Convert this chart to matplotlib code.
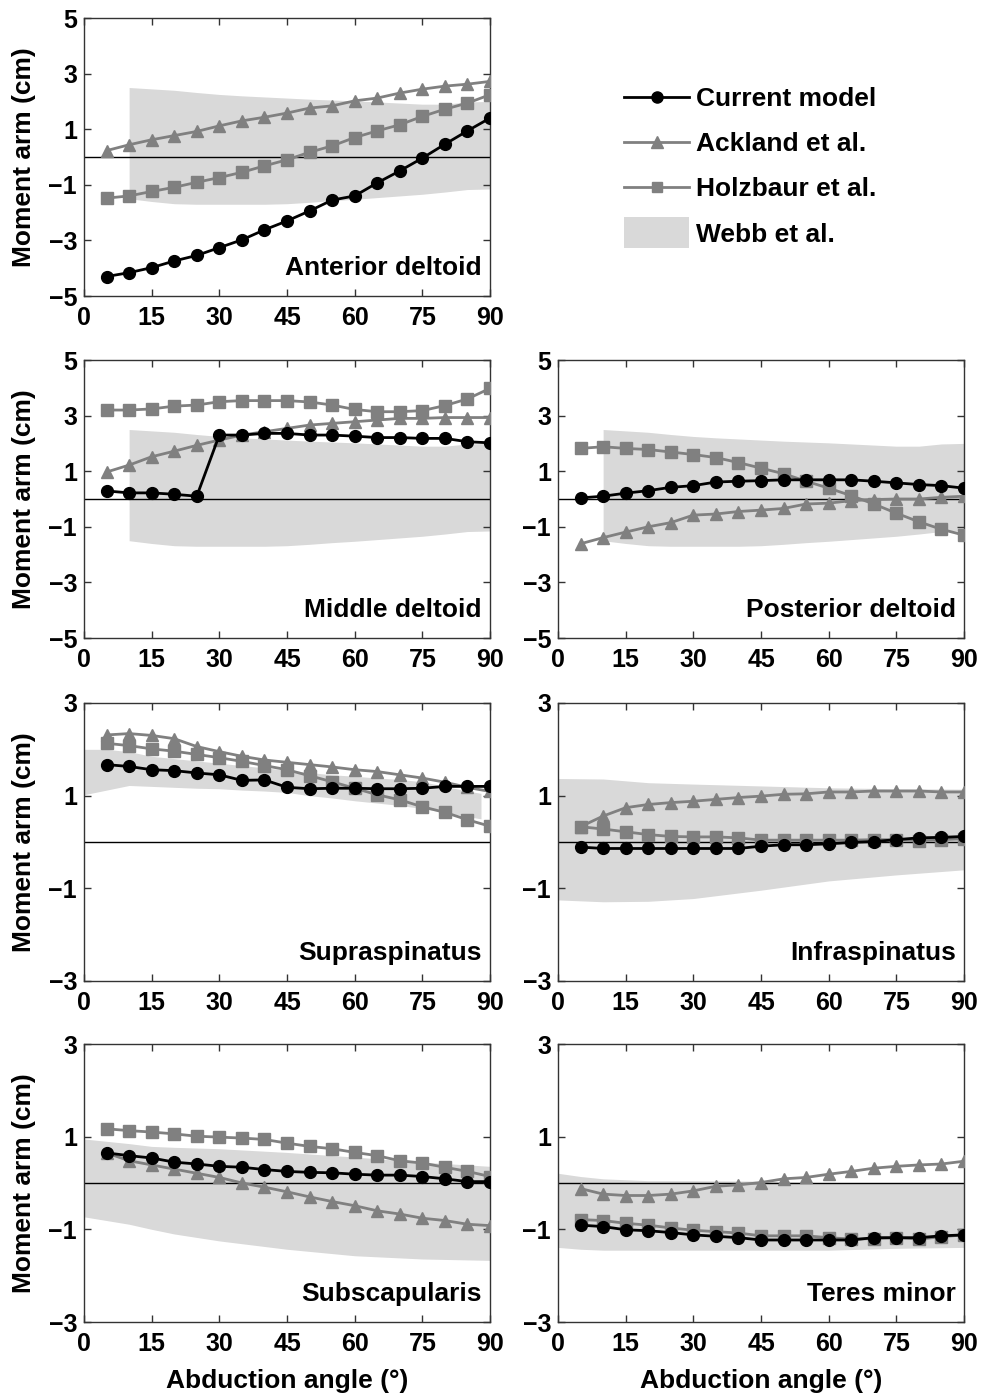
import matplotlib
matplotlib.use("Agg")
import matplotlib.pyplot as plt
import matplotlib.patches as mpatches
from matplotlib.lines import Line2D
from matplotlib.legend_handler import HandlerPatch

plt.rcParams['font.family'] = ['Liberation Sans', 'DejaVu Sans']
plt.rcParams['font.weight'] = 'bold'

# ---------------- data ----------------
angles = [5, 10, 15, 20, 25, 30, 35, 40, 45, 50, 55, 60, 65, 70, 75, 80, 85, 90]
xticks = [0, 15, 30, 45, 60, 75, 90]

muscles = ["Anterior deltoid", "Middle deltoid", "Posterior deltoid",
           "Supraspinatus", "Infraspinatus", "Subscapularis", "Teres minor"]

# Anterior deltoid
ant_current = [-4.30, -4.16, -3.98, -3.74, -3.54, -3.26, -2.98, -2.62, -2.30, -1.94,
               -1.55, -1.40, -0.93, -0.50, -0.04, 0.46, 0.94, 1.40]
ant_ackland = [0.23, 0.44, 0.62, 0.77, 0.92, 1.12, 1.30, 1.43, 1.58, 1.76,
               1.84, 2.02, 2.12, 2.30, 2.44, 2.55, 2.62, 2.72]
ant_holzbaur = [-1.48, -1.40, -1.24, -1.09, -0.91, -0.74, -0.55, -0.32, -0.10, 0.17,
                0.40, 0.70, 0.94, 1.16, 1.46, 1.72, 1.94, 2.24]

# Middle deltoid
mid_current = [0.29, 0.22, 0.22, 0.17, 0.10, 2.30, 2.30, 2.36, 2.36, 2.30,
               2.30, 2.26, 2.21, 2.21, 2.18, 2.18, 2.06, 2.02]
mid_ackland = [0.97, 1.22, 1.52, 1.72, 1.93, 2.12, 2.30, 2.42, 2.54, 2.66,
               2.72, 2.78, 2.84, 2.90, 2.90, 2.93, 2.93, 2.93]
mid_holzbaur = [3.20, 3.20, 3.24, 3.34, 3.38, 3.50, 3.54, 3.54, 3.54, 3.49,
                3.38, 3.22, 3.14, 3.14, 3.18, 3.36, 3.60, 3.98]

# Posterior deltoid
pos_current = [0.04, 0.10, 0.21, 0.30, 0.42, 0.48, 0.61, 0.64, 0.66, 0.69,
               0.69, 0.69, 0.69, 0.64, 0.58, 0.52, 0.48, 0.39]
pos_ackland = [-1.61, -1.39, -1.19, -1.00, -0.85, -0.58, -0.54, -0.45, -0.40, -0.34,
               -0.18, -0.15, -0.06, -0.02, 0.00, 0.00, 0.06, 0.10]
pos_holzbaur = [1.82, 1.88, 1.82, 1.78, 1.69, 1.60, 1.49, 1.31, 1.11, 0.91,
                0.64, 0.39, 0.12, -0.18, -0.51, -0.82, -1.09, -1.30]

# Supraspinatus
sup_current = [1.67, 1.63, 1.56, 1.54, 1.49, 1.45, 1.33, 1.34, 1.18, 1.15,
               1.16, 1.16, 1.15, 1.15, 1.16, 1.20, 1.20, 1.20]
sup_ackland = [2.31, 2.34, 2.30, 2.23, 2.06, 1.95, 1.85, 1.77, 1.72, 1.67,
               1.62, 1.56, 1.52, 1.45, 1.38, 1.29, 1.18, 1.09]
sup_holzbaur = [2.13, 2.08, 2.01, 1.96, 1.89, 1.82, 1.74, 1.65, 1.56, 1.43,
                1.30, 1.16, 1.02, 0.91, 0.76, 0.64, 0.48, 0.34]

# Infraspinatus
inf_current = [-0.11, -0.14, -0.14, -0.14, -0.14, -0.14, -0.14, -0.14, -0.09, -0.06,
               -0.06, -0.04, -0.01, 0.01, 0.05, 0.09, 0.10, 0.12]
inf_ackland = [0.33, 0.56, 0.74, 0.81, 0.85, 0.88, 0.92, 0.96, 0.99, 1.03,
               1.04, 1.08, 1.08, 1.10, 1.10, 1.10, 1.08, 1.08]
inf_holzbaur = [0.33, 0.28, 0.22, 0.16, 0.12, 0.11, 0.11, 0.09, 0.04, 0.04,
                0.04, 0.04, 0.04, 0.05, 0.05, 0.03, 0.05, 0.07]

# Subscapularis
sub_current = [0.65, 0.59, 0.54, 0.45, 0.41, 0.36, 0.34, 0.29, 0.25, 0.23,
               0.22, 0.19, 0.17, 0.17, 0.14, 0.09, 0.03, 0.03]
sub_ackland = [0.65, 0.48, 0.39, 0.30, 0.21, 0.12, 0.00, -0.09, -0.19, -0.30,
               -0.40, -0.49, -0.60, -0.67, -0.76, -0.81, -0.89, -0.92]
sub_holzbaur = [1.17, 1.13, 1.10, 1.06, 1.01, 0.99, 0.97, 0.94, 0.86, 0.79,
                0.74, 0.66, 0.59, 0.48, 0.43, 0.34, 0.25, 0.14]

# Teres minor
ter_current = [-0.91, -0.94, -1.01, -1.03, -1.07, -1.12, -1.15, -1.18, -1.23, -1.23,
               -1.23, -1.23, -1.23, -1.18, -1.18, -1.18, -1.14, -1.12]
ter_ackland = [-0.12, -0.24, -0.27, -0.27, -0.24, -0.17, -0.07, -0.04, 0.01, 0.09,
               0.12, 0.19, 0.25, 0.32, 0.36, 0.39, 0.41, 0.47]
ter_holzbaur = [-0.79, -0.81, -0.87, -0.91, -0.97, -1.02, -1.05, -1.08, -1.14, -1.14,
                -1.14, -1.18, -1.21, -1.20, -1.18, -1.21, -1.16, -1.12]

# Webb et al. ranges
webb_delt_x = [10, 15, 20, 25, 30, 35, 40, 45, 50, 55, 60, 65, 70, 75, 80, 85, 90]
webb_delt_hi = [2.50, 2.45, 2.40, 2.32, 2.25, 2.20, 2.16, 2.12, 2.08, 2.05,
                2.02, 1.98, 1.94, 1.90, 1.90, 1.98, 2.00]
webb_delt_lo = [-1.50, -1.60, -1.68, -1.70, -1.70, -1.70, -1.70, -1.68, -1.63, -1.57,
                -1.52, -1.46, -1.40, -1.34, -1.26, -1.17, -1.15]

webb_sup_x = [0, 5, 10, 15, 20, 25, 30, 35, 40, 45, 50, 55, 60, 65, 70, 75, 80, 85, 88]
webb_sup_hi = [2.00, 2.00, 1.95, 1.85, 1.80, 1.75, 1.70, 1.65, 1.60, 1.55,
               1.50, 1.45, 1.42, 1.38, 1.35, 1.30, 1.20, 1.10, 1.05]
webb_sup_lo = [1.02, 1.12, 1.22, 1.20, 1.18, 1.16, 1.15, 1.12, 1.10, 1.07,
               1.00, 0.95, 0.89, 0.84, 0.79, 0.72, 0.64, 0.55, 0.50]

webb_inf_x = [0, 10, 20, 30, 45, 60, 75, 90]
webb_inf_hi = [1.37, 1.36, 1.28, 1.25, 1.21, 1.17, 1.15, 1.14]
webb_inf_lo = [-1.25, -1.29, -1.28, -1.22, -1.04, -0.84, -0.71, -0.60]

webb_sub_x = [0, 10, 15, 20, 30, 45, 60, 75, 90]
webb_sub_hi = [0.95, 0.85, 0.79, 0.77, 0.74, 0.66, 0.56, 0.45, 0.36]
webb_sub_lo = [-0.73, -0.89, -1.00, -1.10, -1.25, -1.43, -1.57, -1.64, -1.67]

webb_ter_x = [0, 5, 10, 20, 30, 45, 60, 75, 90]
webb_ter_hi = [0.21, 0.14, 0.09, 0.05, 0.05, 0.04, 0.00, 0.00, 0.00]
webb_ter_lo = [-1.39, -1.43, -1.45, -1.45, -1.45, -1.45, -1.45, -1.41, -1.39]

panels = [
    (muscles[0], ant_current, ant_ackland, ant_holzbaur, webb_delt_x, webb_delt_hi, webb_delt_lo),
    (muscles[1], mid_current, mid_ackland, mid_holzbaur, webb_delt_x, webb_delt_hi, webb_delt_lo),
    (muscles[2], pos_current, pos_ackland, pos_holzbaur, webb_delt_x, webb_delt_hi, webb_delt_lo),
    (muscles[3], sup_current, sup_ackland, sup_holzbaur, webb_sup_x, webb_sup_hi, webb_sup_lo),
    (muscles[4], inf_current, inf_ackland, inf_holzbaur, webb_inf_x, webb_inf_hi, webb_inf_lo),
    (muscles[5], sub_current, sub_ackland, sub_holzbaur, webb_sub_x, webb_sub_hi, webb_sub_lo),
    (muscles[6], ter_current, ter_ackland, ter_holzbaur, webb_ter_x, webb_ter_hi, webb_ter_lo),
]

# ---------------- layout ----------------
W, H = 982, 1399
fig = plt.figure(figsize=(W / 100, H / 100), dpi=100)

col_left = [84, 558]
row_top = [18, 360, 703, 1044]
aw, ah = 406, 278
# (row, col) of each panel
slots = [(0, 0), (1, 0), (1, 1), (2, 0), (2, 1), (3, 0), (3, 1)]

GRAY = '#808080'
BAND = '#d9d9d9'
TICK_FS = 18

for (name, cur, ack, hol, wx, whi, wlo), (r, c) in zip(panels, slots):
    ax = fig.add_axes([col_left[c] / W, 1 - (row_top[r] + ah) / H, aw / W, ah / H])
    ax.fill_between(wx, wlo, whi, color=BAND, lw=0, zorder=1)
    ax.axhline(0, color='black', lw=1.0, zorder=2)
    ax.plot(angles, ack, color=GRAY, lw=2.0, marker='^', ms=9, mec=GRAY, mfc=GRAY, zorder=3)
    ax.plot(angles, hol, color=GRAY, lw=2.0, marker='s', ms=8, mec=GRAY, mfc=GRAY, zorder=4)
    ax.plot(angles, cur, color='black', lw=2.0, marker='o', ms=8.5, mec='black', mfc='black', zorder=5)
    ax.set_xlim(0, 90)
    if r <= 1:
        ax.set_ylim(-5, 5)
        ax.set_yticks([-5, -3, -1, 1, 3, 5])
    else:
        ax.set_ylim(-3, 3)
        ax.set_yticks([-3, -1, 1, 3])
    ax.set_xticks(xticks)
    ax.tick_params(direction='in', top=True, right=True, length=5, width=1,
                   labelsize=TICK_FS, color='#333333')
    ax.tick_params(axis='x', pad=7)
    ax.tick_params(axis='y', pad=5)
    for lab in ax.get_xticklabels() + ax.get_yticklabels():
        lab.set_fontweight('bold')
    for sp in ax.spines.values():
        sp.set_color('#333333')
        sp.set_linewidth(1.0)
    ax.text(0.98, 0.10, name, transform=ax.transAxes, ha='right', va='center',
            fontsize=19, fontweight='bold')
    if c == 0:
        ax.set_ylabel("Moment arm (cm)", fontsize=19, fontweight='bold')
        ax.yaxis.set_label_coords(-0.118, 0.5)
    if r == 3:
        ax.set_xlabel("Abduction angle (°)", fontsize=19, fontweight='bold')
        ax.xaxis.set_label_coords(0.5, -0.17)

# ---------------- legend ----------------
def tall_patch(legend, orig_handle, xdescent, ydescent, width, height, fontsize):
    extra = height * 0.35
    return mpatches.Rectangle((-xdescent, -ydescent - extra), width, height + 2 * extra)

handles = [
    Line2D([], [], color='black', lw=2, marker='o', ms=8, mfc='black', mec='black'),
    Line2D([], [], color=GRAY, lw=2, marker='^', ms=8.5, mfc=GRAY, mec=GRAY),
    Line2D([], [], color=GRAY, lw=2, marker='s', ms=7.5, mfc=GRAY, mec=GRAY),
    mpatches.Patch(facecolor=BAND, edgecolor='none'),
]
labels = ["Current model", "Ackland et al.", "Holzbaur et al.", "Webb et al."]
fig.legend(handles, labels, loc='upper left', bbox_to_anchor=(611 / W, 1 - 74 / H),
           frameon=False, prop={'weight': 'bold', 'size': 19},
           handlelength=2.45, handletextpad=0.28, labelspacing=0.8, borderpad=0,
           handler_map={mpatches.Patch: HandlerPatch(patch_func=tall_patch)})

fig.savefig("out.png", dpi=100)
